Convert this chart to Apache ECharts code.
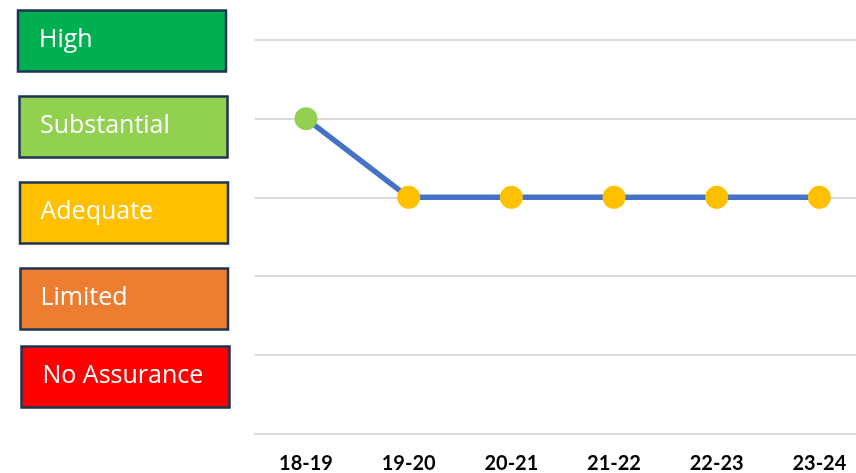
<!DOCTYPE html>
<html>
<head>
<meta charset="utf-8">
<script src="https://cdn.jsdelivr.net/npm/echarts@6/dist/echarts.min.js"></script>
<style>
  html, body { margin: 0; padding: 0; background: #ffffff; }
  #chart { width: 856px; height: 473px; }
</style>
</head>
<body>
<div id="chart"></div>
<script>
// Financial years on the x axis
const years = ['18-19', '19-20', '20-21', '21-22', '22-23', '23-24'];
// Assurance level per year (1 = No Assurance ... 5 = High)
const assurance = [4, 3, 3, 3, 3, 3];
// Assurance scale, from highest to lowest
const levelNames = ['High', 'Substantial', 'Adequate', 'Limited', 'No Assurance'];
const levelValues = [5, 4, 3, 2, 1];
const levelColors = ['#00b050', '#92d050', '#ffc000', '#ed7d31', '#ff0000'];

function colorFor(v) {
  return levelColors[levelValues.indexOf(v)];
}

// Key boxes down the left-hand side
const boxLayout = [
  { x: 18, y: 10.5, w: 208, h: 61, tx: 39 },
  { x: 19.5, y: 96.5, w: 208, h: 61, tx: 40 },
  { x: 20, y: 182.5, w: 208, h: 61, tx: 40.5 },
  { x: 20.5, y: 268.5, w: 207.5, h: 61, tx: 40.5 },
  { x: 21.5, y: 346.5, w: 208, h: 61, tx: 42.5 }
];

const graphics = [];
levelNames.forEach((name, i) => {
  const b = boxLayout[i];
  graphics.push({
    type: 'rect',
    shape: { x: b.x, y: b.y, width: b.w, height: b.h },
    style: { fill: levelColors[i], stroke: '#1f3354', lineWidth: 2.5 },
    z: 10
  });
  graphics.push({
    type: 'text',
    x: b.tx,
    y: b.y + b.h / 2 - 1,
    style: {
      text: name,
      fill: '#ffffff',
      font: '25px "Open Sans", sans-serif',
      textVerticalAlign: 'middle'
    },
    z: 11
  });
});

const chart = echarts.init(document.getElementById('chart'));
chart.setOption({
  animation: false,
  backgroundColor: '#ffffff',
  graphic: graphics,
  // plot area runs a little past the right edge of the canvas
  grid: { left: 254.7, width: 616, top: 40, bottom: 39.7, outerBoundsMode: 'none', containLabel: false },
  xAxis: {
    type: 'category',
    data: years,
    boundaryGap: true,
    axisLine: { show: true, lineStyle: { color: '#d9d9d9', width: 2 } },
    axisTick: { show: false },
    axisLabel: {
      color: '#000000',
      fontFamily: 'Lato, sans-serif',
      fontWeight: 'bold',
      fontSize: 20,
      margin: 20
    }
  },
  yAxis: {
    type: 'value',
    min: 0,
    max: 5,
    interval: 1,
    axisLabel: { show: false },
    axisLine: { show: false },
    axisTick: { show: false },
    splitLine: { lineStyle: { color: '#d9d9d9', width: 2 } }
  },
  series: [{
    type: 'line',
    data: assurance.map(v => ({ value: v, itemStyle: { color: colorFor(v) } })),
    symbol: 'circle',
    symbolSize: 23,
    lineStyle: { color: '#4472c4', width: 5.5 },
    itemStyle: { borderWidth: 0 },
    z: 3
  }]
});
</script>
</body>
</html>
